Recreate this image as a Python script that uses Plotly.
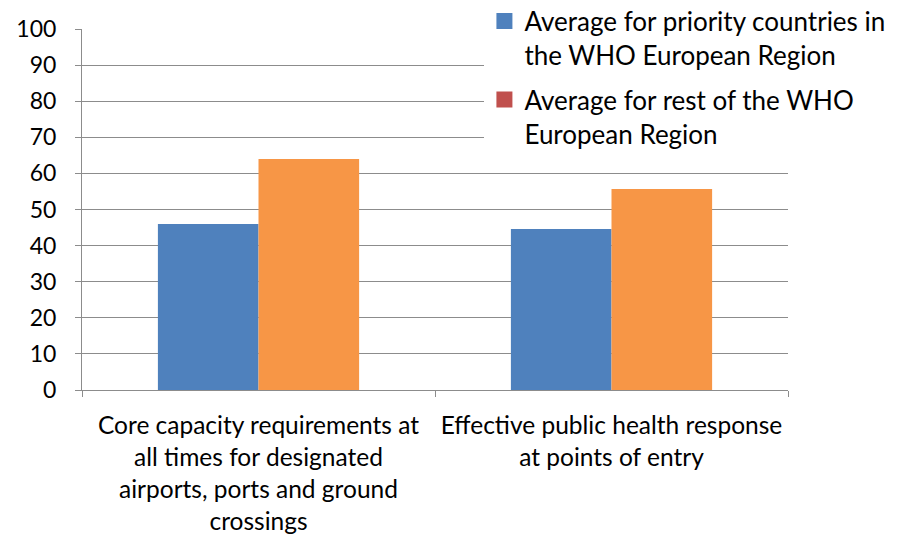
import plotly.graph_objects as go

# Categories (wrapped labels) and series values
categories = [
    "Core capacity requirements at<br>all times for designated<br>airports, ports and ground<br>crossings",
    "Effective public health response<br>at points of entry",
]
priority_avg = [46.0, 44.6]
rest_avg = [64.0, 55.7]

series_names = [
    "Average for priority countries in<br>the WHO European Region",
    "Average for rest of the WHO<br>European Region",
]
bar_colors = ["#4F81BD", "#F79646"]
legend_colors = ["#4F81BD", "#C0504D"]

FONT = "Lato"
GRID = "#8C8C8C"

fig = go.Figure()

for vals, col in zip([priority_avg, rest_avg], bar_colors):
    fig.add_trace(go.Bar(
        x=categories, y=vals, marker=dict(color=col, line=dict(width=0)),
        showlegend=False, hoverinfo="y",
    ))

# Legend swatches
for name, col in zip(series_names, legend_colors):
    fig.add_trace(go.Scatter(
        x=[None], y=[None], mode="markers", name=name,
        marker=dict(symbol="square", size=16, color=col),
        legendgroup=name,
    ))

fig.update_layout(
    width=921, height=536,
    margin=dict(l=82, r=133, t=29, b=146, autoexpand=False),
    paper_bgcolor="white", plot_bgcolor="white",
    barmode="group", bargap=0.43, bargroupgap=0,
    font=dict(family=FONT, size=22, color="#000000"),
    legend=dict(
        x=0.570, xanchor="left", y=1.087, yanchor="top",
        bgcolor="white", font=dict(family=FONT, size=26, color="#000000"),
        itemsizing="trace", valign="top", tracegroupgap=8,
    ),
    showlegend=True,
)

fig.update_yaxes(
    range=[0, 100], dtick=10, tick0=0,
    showgrid=True, gridcolor=GRID, gridwidth=1,
    showline=True, linecolor=GRID, linewidth=1,
    ticks="outside", ticklen=6, tickcolor=GRID,
    ticklabelstandoff=14,
    tickfont=dict(family=FONT, size=23, color="#000000"),
    zeroline=False, fixedrange=True,
)
fig.update_xaxes(
    showline=True, linecolor=GRID, linewidth=1,
    ticks="outside", ticklen=6, tickcolor=GRID, tickson="boundaries",
    ticklabelstandoff=14,
    tickfont=dict(family=FONT, size=24.5, color="#000000"),
    showgrid=False, fixedrange=True,
)

fig.write_html("out.html")
